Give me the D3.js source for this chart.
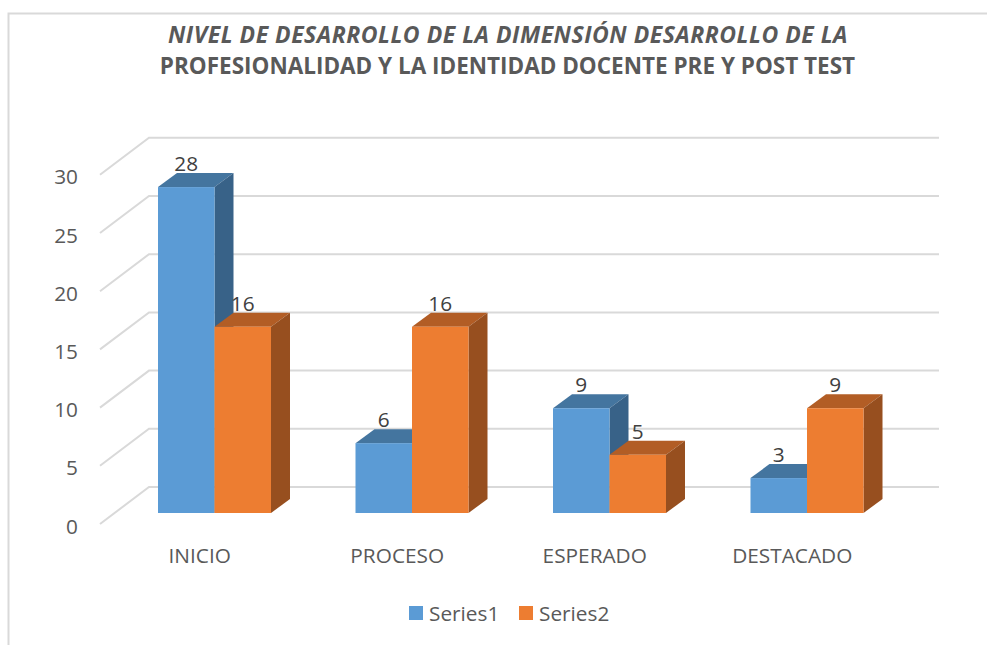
<!DOCTYPE html>
<html><head><meta charset="utf-8">
<script src="https://d3js.org/d3.v7.min.js"></script>
<style>html,body{margin:0;padding:0;background:#fff}svg{display:block}</style>
</head><body><svg id="c" width="987" height="645"></svg>
<script>
const categories=["INICIO","PROCESO","ESPERADO","DESTACADO"];
const series1=[28,6,9,3];
const series2=[16,16,5,9];
const seriesNames=["Series1","Series2"];
const yTicks=[0,5,10,15,20,25,30];
const font="'Open Sans','Noto Sans',sans-serif";
const svg=d3.select("#c");
const y=d3.scaleLinear().domain([0,30]).range([513,163.8]);
const x=d3.scaleBand().domain(categories).range([100,890]);
const inner=d3.scaleBand().domain(seriesNames).range([0,113]);
const offset=()=>58;
const wall={dx:49,dy:-37}, barD={dx:19,dy:-14};
svg.append("path").attr("d","M8.5,645V13.5H987").attr("fill","none").attr("stroke","#d9d9d9").attr("stroke-width",2);
const gy=v=>y(v)+11;
const grid=svg.append("g").attr("fill","none").attr("stroke","#d9d9d9").attr("stroke-width",2);
yTicks.forEach(v=>{
 grid.append("path").attr("d",`M100,${gy(v)}L${100+wall.dx},${gy(v)+wall.dy}H939`);
});
svg.append("g").selectAll("text").data(yTicks).join("text")
 .attr("x",78).attr("y",v=>gy(v)+9.5).attr("text-anchor","end").attr("font-family",font)
 .attr("font-size",20.8).attr("fill","#595959").text(d=>d);
const colors=[["#5b9bd5","#44759f","#386288"],["#ed7d31","#b25d25","#974f1f"]];
[series1,series2].forEach((vals,s)=>{
 const g=svg.append("g");
 vals.forEach((v,i)=>{
  const x0=x(categories[i])+offset()+inner(seriesNames[s]);
  const x1=x0+inner.bandwidth(), t=y(v), b=y(0);
  const c=colors[s];
  g.append("path").attr("d",`M${x0},${t}L${x0+barD.dx},${t+barD.dy}H${x1+barD.dx}L${x1},${t}Z`).attr("fill",c[1]);
  g.append("path").attr("d",`M${x1},${t}L${x1+barD.dx},${t+barD.dy}V${b+barD.dy}L${x1},${b}Z`).attr("fill",c[2]);
  g.append("rect").attr("x",x0).attr("y",t).attr("width",x1-x0).attr("height",b-t).attr("fill",c[0]);
  g.append("text").attr("x",(x0+x1)/2).attr("y",t-16).attr("text-anchor","middle").attr("font-family",font)
   .attr("font-size",20.8).attr("fill","#404040").text(v);
 });
});
svg.append("g").selectAll("text").data(categories).join("text")
 .attr("x",d=>x(d)+x.bandwidth()/2+1).attr("y",563).attr("text-anchor","middle").attr("font-family",font)
 .attr("font-size",20.8).attr("fill","#595959").text(d=>d);
const title=svg.append("g").attr("text-anchor","middle").attr("font-family",font).attr("fill","#595959");
title.append("text").attr("x",508).attr("y",43).attr("font-size",23).attr("letter-spacing",0.5).attr("font-style","italic").attr("font-weight",700).text("NIVEL DE DESARROLLO DE LA DIMENSIÓN DESARROLLO DE LA");
title.append("text").attr("x",507.5).attr("y",74).attr("font-size",22.5).attr("font-weight",700).text("PROFESIONALIDAD Y LA IDENTIDAD DOCENTE PRE Y POST TEST");
const lx=[409,519];
seriesNames.forEach((n,i)=>{
 svg.append("rect").attr("x",lx[i]).attr("y",606).attr("width",14).attr("height",14).attr("fill",colors[i][0]);
 svg.append("text").attr("x",lx[i]+20).attr("y",621).attr("font-family",font).attr("font-size",20.8).attr("fill","#595959").text(n);
});
</script></body></html>
